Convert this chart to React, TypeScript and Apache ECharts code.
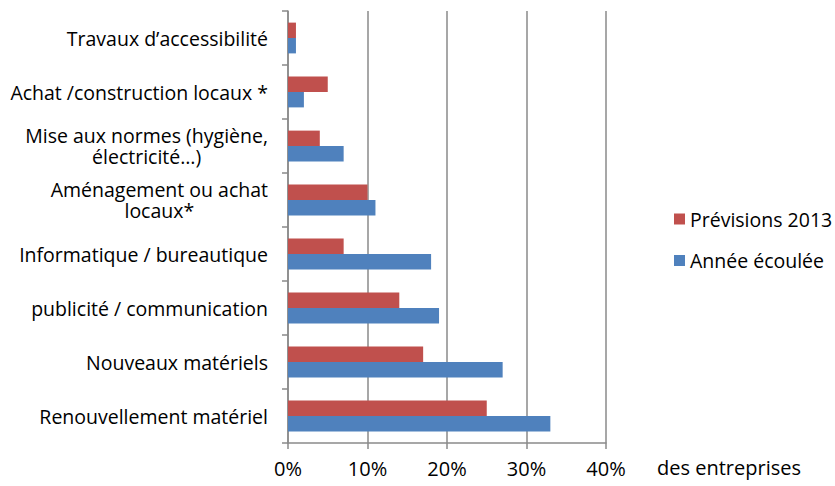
import React, { useEffect, useRef } from 'react';
import * as echarts from 'echarts';

const categories: string[] = [
  'Renouvellement matériel',
  'Nouveaux matériels',
  'publicité / communication',
  'Informatique / bureautique',
  'Aménagement ou achat\nlocaux*',
  'Mise aux normes (hygiène,\nélectricité…)',
  'Achat /construction locaux *',
  'Travaux d’accessibilité',
];
const seriesNames: string[] = ['Prévisions 2013', 'Année écoulée'];
const previsions2013: number[] = [25, 17, 14, 7, 10, 4, 5, 1];
const anneeEcoulee: number[] = [33, 27, 19, 18, 11, 7, 2, 1];
const xMin = 0;
const xMax = 40;
const xInterval = 10;
const xUnitLabel = 'des entreprises';

const FONT = '"Open Sans", sans-serif';
const LABEL_SIZE = 19.5;
const TEXT_SIZE = 20;
const AXIS_GRAY = '#8a8a8a';

function measure(text: string, size: number): number {
  const c = document.createElement('canvas').getContext('2d');
  if (!c) return text.length * size * 0.5;
  c.font = `${size}px "Open Sans"`;
  return c.measureText(text).width;
}

const baseLabelStyle = {
  fontFamily: FONT,
  fontSize: LABEL_SIZE,
  color: '#000',
  lineHeight: 21,
};

// Spacer tokens (placed after the text) so that each line of a wrapped
// category label is centred within its right-aligned label block.
const padWidths: Record<string, number> = {};
function buildRich() {
  const rich: Record<string, any> = { t: { ...baseLabelStyle } };
  categories.forEach((cat, i) => {
    const lines = cat.split('\n');
    const widths = lines.map((l) => measure(l, LABEL_SIZE));
    const maxW = Math.max(...widths);
    lines.forEach((_, j) => {
      const pad = Math.max(0, (maxW - widths[j]) / 2);
      padWidths[`p${i}_${j}`] = pad;
      rich[`p${i}_${j}`] = { ...baseLabelStyle, width: pad };
    });
  });
  return rich;
}

function labelFormatter(v: string, idx: number): string {
  const lines = v.split('\n');
  if (lines.length === 1) return `{t|${v}}`;
  return lines
    .map((l, j) => {
      const key = `p${idx}_${j}`;
      return padWidths[key] > 0.5 ? `{t|${l}}{${key}| }` : `{t|${l}}`;
    })
    .join('\n');
}

export default function App() {
  const ref = useRef<HTMLDivElement>(null);
  useEffect(() => {
    if (!ref.current) return;
    const chart = echarts.init(ref.current, null, { renderer: 'svg' });
    const rich = buildRich();
    chart.setOption({
      animation: false,
      backgroundColor: '#ffffff',
      textStyle: { fontFamily: FONT },
      grid: { left: 288, right: 229, top: 11, bottom: 43, containLabel: false },
      legend: {
        orient: 'vertical',
        left: 669,
        top: 204,
        icon: 'rect',
        itemWidth: 11,
        itemHeight: 11,
        itemGap: 21.5,
        data: seriesNames,
        textStyle: { fontFamily: FONT, fontSize: 19.5, color: '#000', lineHeight: 20 },
      },
      xAxis: {
        type: 'value',
        min: xMin,
        max: xMax,
        interval: xInterval,
        axisLine: { show: true, lineStyle: { color: AXIS_GRAY, width: 1.5 } },
        axisTick: { show: true, length: 6, lineStyle: { color: AXIS_GRAY, width: 1.5 } },
        splitLine: { show: true, lineStyle: { color: AXIS_GRAY, width: 1.5 } },
        axisLabel: {
          formatter: '{value}%',
          fontFamily: FONT,
          fontSize: TEXT_SIZE,
          color: '#000',
          margin: 15,
        },
      },
      yAxis: {
        type: 'category',
        data: categories,
        axisLine: { show: true, lineStyle: { color: AXIS_GRAY, width: 1.5 } },
        axisTick: { show: true, length: 6, lineStyle: { color: AXIS_GRAY, width: 1.5 } },
        axisLabel: {
          margin: 20,
          align: 'right',
          formatter: labelFormatter,
          rich,
        },
      },
      series: [
        {
          name: seriesNames[0],
          type: 'bar',
          data: previsions2013,
          itemStyle: { color: '#C0504D' },
          barGap: '0%',
          barCategoryGap: '43%',
        },
        {
          name: seriesNames[1],
          type: 'bar',
          data: anneeEcoulee,
          itemStyle: { color: '#4F81BD' },
          barGap: '0%',
          barCategoryGap: '43%',
        },
      ],
      graphic: [
        {
          type: 'text',
          left: 657,
          top: 457,
          style: { text: xUnitLabel, fontFamily: FONT, fontSize: TEXT_SIZE, fill: '#000' },
        },
      ],
    });
    return () => chart.dispose();
  }, []);
  return (
    <div
      ref={ref}
      style={{ position: 'fixed', left: 0, top: 0, width: 835, height: 486 }}
    />
  );
}
